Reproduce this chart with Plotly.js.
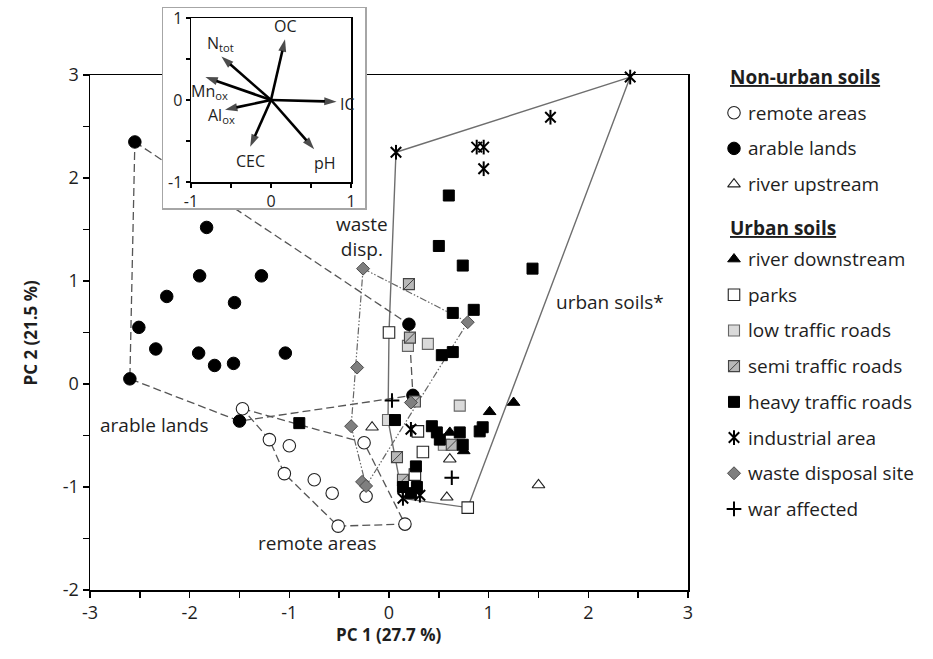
<!DOCTYPE html>
<html><head><meta charset="utf-8">
<script src="https://cdn.plot.ly/plotly-3.0.1.min.js"></script>
<style>html,body{margin:0;padding:0;background:#fff}#chart{width:933px;height:659px}</style>
</head><body><div id="chart"></div>
<script>
// ---------------- DATA ----------------
const remoteX = [-1.47,-1.20,-1.00,-1.05,-0.75,-0.57,-0.51,0.16,-0.25,-0.23];
const remoteY = [-0.24,-0.54,-0.60,-0.87,-0.93,-1.06,-1.38,-1.36,-0.57,-1.09];
const arableX = [-2.55,-1.83,-1.90,-1.28,-2.23,-1.55,-2.51,-2.34,-1.91,-1.75,-1.56,-1.04,-2.60,-1.50,0.20,0.24];
const arableY = [2.35,1.52,1.05,1.05,0.85,0.79,0.55,0.34,0.30,0.18,0.20,0.30,0.05,-0.36,0.58,-0.11];
const upstreamX = [-0.17,0.61,0.58,1.50];
const upstreamY = [-0.42,-0.73,-1.10,-0.98];
const downstreamX = [0.61,0.75,1.01,1.25];
const downstreamY = [-0.47,-0.65,-0.27,-0.18];
const parksX = [0.00,0.29,0.34,0.79,0.26];
const parksY = [0.50,-0.46,-0.66,-1.20,-0.88];
const lowTrafficX = [0.39,0.19,0.71,-0.01,0.55];
const lowTrafficY = [0.39,0.37,-0.21,-0.35,-0.59];
const semiTrafficX = [0.20,0.21,0.26,0.08,0.14,0.63];
const semiTrafficY = [0.97,0.45,-0.17,-0.71,-0.93,-0.59];
const heavyTrafficX = [0.60,0.50,0.74,1.44,0.64,0.85,0.53,0.64,-0.90,0.06,0.43,0.48,0.51,0.71,0.74,0.91,0.94,0.27,0.14,0.28,0.22];
const heavyTrafficY = [1.83,1.34,1.15,1.12,0.69,0.72,0.28,0.31,-0.38,-0.35,-0.41,-0.47,-0.54,-0.47,-0.59,-0.46,-0.42,-0.80,-1.00,-1.00,-1.06];
const industrialX = [0.07,2.42,1.62,0.88,0.95,0.95,0.22,0.14,0.31];
const industrialY = [2.25,2.98,2.59,2.30,2.30,2.09,-0.44,-1.11,-1.08];
const wasteX = [-0.26,-0.32,0.79,0.22,-0.38,-0.27,-0.23];
const wasteY = [1.12,0.16,0.60,-0.18,-0.41,-0.95,-0.99];
const warX = [0.03,0.63];
const warY = [-0.16,-0.91];

// hull outlines
const arableHullX = [-2.55,0.20,0.24,-1.50,-2.60,-2.55];
const arableHullY = [2.35,0.58,-0.11,-0.36,0.05,2.35];
const remoteHullX = [-1.47,-0.25,0.16,-0.51,-1.05,-1.20,-1.47];
const remoteHullY = [-0.24,-0.57,-1.36,-1.38,-0.87,-0.54,-0.24];
const urbanHullX = [0.07,2.42,0.79,0.14,-0.01,0.00,0.07];
const urbanHullY = [2.25,2.98,-1.20,-1.11,-0.35,0.50,2.25];
const wasteHullX = [-0.26,0.79,-0.23,-0.38,-0.26];
const wasteHullY = [1.12,0.60,-0.99,-0.41,1.12];

// loadings (inset)
const loadingNames = ['OC','N<sub>tot</sub>','Mn<sub>ox</sub>','Al<sub>ox</sub>','CEC','pH','IC'];
const loadingX = [0.175,-0.62,-0.82,-0.575,-0.26,0.54,0.82];
const loadingY = [0.74,0.53,0.28,-0.12,-0.57,-0.60,-0.02];

// ticks
const mainXTicks = [-3,-2,-1,0,1,2,3];
const mainXLabels = ['-3','-2','-1','0','1','2','3'];
const mainYTicks = [-2,-1,0,1,2,3];
const mainYLabels = ['-2','-1','0','1','2','3'];
const insetTicks = [-1,0,1];
const insetLabels = ['-1','0','1'];

// titles / texts
const xTitle = 'PC 1 (27.7 %)';
const yTitle = 'PC 2 (21.5 %)';
const groupLabels = ['waste<br>disp.','arable lands','remote areas','urban soils*'];
const groupLabelX = [-0.27,-2.35,-0.72,2.22];
const groupLabelY = [1.43,-0.40,-1.54,0.80];
const legendHeaders = ['Non-urban soils','Urban soils'];
const nonUrbanNames = ['remote areas','arable lands','river upstream'];
const urbanNames = ['river downstream','parks','low traffic roads','semi traffic roads','heavy traffic roads','industrial area','waste disposal site','war affected'];

// ---------------- STYLES ----------------
const FONT = '"Open Sans", "Noto Sans", sans-serif';
const TXT = '#1e1e1e';
const LABEL_SIZE = 19;
const styles = {
  'remote areas': [{symbol:'circle', size:12.5, color:'#fff', lc:'#222', lw:1.1}],
  'arable lands': [{symbol:'circle', size:12.5, color:'#000', lc:'#000', lw:1}],
  'river upstream': [{symbol:'triangle-up', size:11, color:'#fff', lc:'#222', lw:1.1}],
  'river downstream': [{symbol:'triangle-up', size:11, color:'#000', lc:'#000', lw:1}],
  'parks': [{symbol:'square', size:11.5, color:'#fff', lc:'#222', lw:1.1}],
  'low traffic roads': [{symbol:'square', size:11, color:'#dadada', lc:'#666', lw:1.1}],
  'semi traffic roads': [{symbol:'square', size:11, color:'#b8b8b8', lc:'#444', lw:1.1},
                         {symbol:'line-ne-open', size:11, color:'#444', lc:'#444', lw:1}],
  'heavy traffic roads': [{symbol:'square', size:11, color:'#000', lc:'#000', lw:1}],
  'industrial area': [{symbol:'x-thin-open', size:10.5, color:'#000', lc:'#000', lw:2},
                      {symbol:'line-ns-open', size:10.5, color:'#000', lc:'#000', lw:2}],
  'waste disposal site': [{symbol:'diamond', size:10, color:'#7f7f7f', lc:'#4d4d4d', lw:1}],
  'war affected': [{symbol:'cross-thin-open', size:10.5, color:'#000', lc:'#000', lw:2}]
};
const seriesData = [
  ['remote areas', remoteX, remoteY], ['arable lands', arableX, arableY],
  ['river upstream', upstreamX, upstreamY], ['river downstream', downstreamX, downstreamY],
  ['parks', parksX, parksY], ['low traffic roads', lowTrafficX, lowTrafficY],
  ['semi traffic roads', semiTrafficX, semiTrafficY], ['heavy traffic roads', heavyTrafficX, heavyTrafficY],
  ['waste disposal site', wasteX, wasteY], ['industrial area', industrialX, industrialY],
  ['war affected', warX, warY]
];

const traces = [];
function hull(x, y, color, width, dash, name) {
  traces.push({type:'scatter', mode:'lines', x:x, y:y, name:name, showlegend:false, hoverinfo:'skip',
    cliponaxis:false, line:{color:color, width:width, dash:dash}, xaxis:'x', yaxis:'y'});
}
hull(urbanHullX, urbanHullY, '#6e6e6e', 1.4, 'solid', 'urban soils hull');
hull(arableHullX, arableHullY, '#555', 1.3, '8px,4px', 'arable lands hull');
hull(remoteHullX, remoteHullY, '#555', 1.3, '8px,4px', 'remote areas hull');
hull(wasteHullX, wasteHullY, '#666', 1.2, '7px,2px,1.5px,2px,1.5px,2px', 'waste disposal hull');

function markers(x, y, st, xa, ya, name) {
  st.forEach(s => traces.push({type:'scatter', mode:'markers', x:x, y:y, name:name, xaxis:xa, yaxis:ya,
    showlegend:false, cliponaxis:false, hoverinfo:'x+y+name',
    marker:{symbol:s.symbol, size:s.size, color:s.color, line:{color:s.lc, width:s.lw}}}));
}
seriesData.forEach(d => markers(d[1], d[2], styles[d[0]], 'x', 'y', d[0]));

// legend rows (custom legend on its own hidden axes)
const ROW = {header:[0, 4.22], nonUrbanStart:1, urbanStart:5.1};
const LEGX = {header:12.7, marker:19, text:31};
const annotations = [];
function legendItem(n, r) {
  markers([LEGX.marker],[r], styles[n], 'x4','y4', n);
  annotations.push({xref:'x4', yref:'y4', x:LEGX.text, y:r, text:n, showarrow:false, xanchor:'left', yanchor:'middle',
    font:{family:FONT, size:LABEL_SIZE, color:TXT}});
}
nonUrbanNames.forEach((n,i) => legendItem(n, ROW.nonUrbanStart + i));
urbanNames.forEach((n,i) => legendItem(n, ROW.urbanStart + i));
legendHeaders.forEach((h,i) => annotations.push({xref:'x4', yref:'y4', x:LEGX.header, y:ROW.header[i],
  text:'<b><u>'+h+'</u></b>', showarrow:false, xanchor:'left', yanchor:'middle', font:{family:FONT, size:LABEL_SIZE, color:TXT}}));

// group labels in main plot
groupLabels.forEach((t,i) => annotations.push({xref:'x', yref:'y', x:groupLabelX[i], y:groupLabelY[i], text:t,
  showarrow:false, xanchor:'center', yanchor:'middle', font:{family:FONT, size:LABEL_SIZE, color:TXT}}));

// axis titles
annotations.push({xref:'x domain', yref:'paper', x:0.5, y:1-634/659, text:'<b>'+xTitle+'</b>', showarrow:false,
  xanchor:'center', yanchor:'middle', font:{family:FONT, size:17, color:TXT}});
annotations.push({xref:'paper', yref:'y domain', x:30/933, y:0.5, text:'<b>'+yTitle+'</b>', showarrow:false, textangle:-90,
  xanchor:'center', yanchor:'middle', font:{family:FONT, size:17, color:TXT}});

// loading arrows (line traces with arrow-head markers) + labels (inset)
loadingNames.forEach((n,i) => {
  traces.push({type:'scatter', mode:'lines+markers', x:[0, loadingX[i]], y:[0, loadingY[i]], xaxis:'x3', yaxis:'y3',
    name:n, showlegend:false, cliponaxis:false, hoverinfo:'skip',
    line:{color:'#000', width:2.6},
    marker:{symbol:['circle','arrow'], size:[0, 13], angleref:'previous', color:'#000', line:{width:0}}});
});
const labelPlace = [
  {xa:'center', ya:'bottom', dx:0, dy:0},
  {xa:'center', ya:'bottom', dx:-1, dy:0},
  {xa:'center', ya:'top', dx:4, dy:-1},
  {xa:'center', ya:'middle', dx:-4, dy:-6},
  {xa:'center', ya:'top', dx:0, dy:-1},
  {xa:'left', ya:'top', dx:-2, dy:-1},
  {xa:'left', ya:'middle', dx:1, dy:-2}
];
loadingNames.forEach((n,i) => {
  const p = labelPlace[i];
  annotations.push({xref:'x3', yref:'y3', x:loadingX[i], y:loadingY[i], text:n, showarrow:false,
    xanchor:p.xa, yanchor:p.ya, xshift:p.dx, yshift:p.dy, font:{family:FONT, size:16, color:TXT}});
});

const W = 933, H = 659;
const axBase = {showgrid:false, zeroline:false, automargin:false, fixedrange:true};
function tickAxis(range, vals, labels, len, size, domain, anchor) {
  return Object.assign({}, axBase, {domain:domain, range:range, anchor:anchor, tickvals:vals, ticktext:labels,
    ticks:'outside', ticklen:len, tickwidth:1.5, tickcolor:'#000', showline:true, linecolor:'#000', linewidth:1.5, mirror:true,
    minor:{dtick:0.5, ticks:'outside', ticklen:len, tickwidth:1.5, tickcolor:'#000', showgrid:false},
    tickfont:{family:FONT, size:size, color:TXT}});
}
const layout = {
  width:W, height:H, margin:{l:0,r:0,t:0,b:0}, paper_bgcolor:'#fff', plot_bgcolor:'#fff',
  showlegend:false, font:{family:FONT, color:TXT},
  xaxis: tickAxis([-3,3], mainXTicks, mainXLabels, 6, 18, [90/W, 688/W], 'y'),
  yaxis: tickAxis([-2,3], mainYTicks, mainYLabels, 6, 18, [1-590/H, 1-75/H], 'x'),
  xaxis2: Object.assign({}, axBase, {domain:[163/W, 365/W], range:[0,1], anchor:'y2', showticklabels:false, ticks:'',
    showline:true, mirror:true, linecolor:'#a6a6a6', linewidth:1.5}),
  yaxis2: Object.assign({}, axBase, {domain:[1-208/H, 1-8/H], range:[0,1], anchor:'x2', showticklabels:false, ticks:'',
    showline:true, mirror:true, linecolor:'#a6a6a6', linewidth:1.5}),
  xaxis3: tickAxis([-1,1], insetTicks, insetLabels, 4, 16, [191/W, 351/W], 'y3'),
  yaxis3: tickAxis([-1,1], insetTicks, insetLabels, 4, 16, [1-182/H, 1-18/H], 'x3'),
  xaxis4: Object.assign({}, axBase, {domain:[715/W, 1], range:[0,218], anchor:'y4', visible:false}),
  yaxis4: Object.assign({}, axBase, {domain:[1-535/H, 1-55/H], range:[(535-77)/35.7, (55-77)/35.7], anchor:'x4', visible:false}),
  annotations: annotations
};
// empty trace so that the inset frame subplot exists
traces.push({type:'scatter', mode:'markers', x:[], y:[], xaxis:'x2', yaxis:'y2', showlegend:false, hoverinfo:'skip'});

Plotly.newPlot('chart', traces, layout, {displayModeBar:false, staticPlot:true});
</script></body></html>
